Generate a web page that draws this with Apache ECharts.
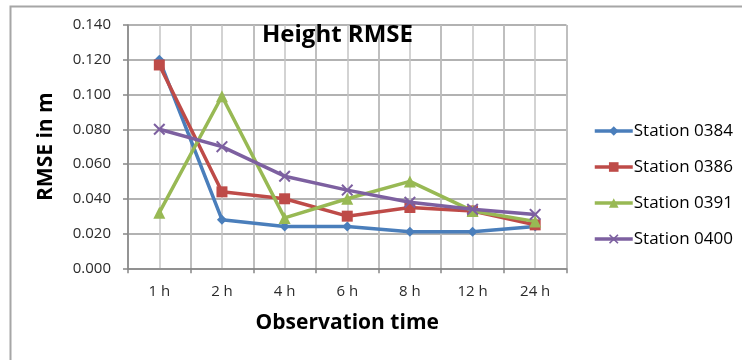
<!DOCTYPE html>
<html><head><meta charset="utf-8">
<script src="https://cdn.jsdelivr.net/npm/echarts@6/dist/echarts.min.js"></script>
<style>html,body{margin:0;padding:0;background:#fff}#c{width:742px;height:360px}</style>
</head><body><div id="c"></div>
<script>
const categories = ['1 h','2 h','4 h','6 h','8 h','12 h','24 h'];
const station0384 = [0.120, 0.028, 0.024, 0.024, 0.021, 0.021, 0.024];
const station0386 = [0.117, 0.044, 0.040, 0.030, 0.035, 0.033, 0.025];
const station0391 = [0.032, 0.099, 0.029, 0.040, 0.050, 0.033, 0.027];
const station0400 = [0.080, 0.070, 0.053, 0.045, 0.038, 0.034, 0.031];
const seriesNames = ['Station 0384','Station 0386','Station 0391','Station 0400'];

const colors = ['#4A7EBB','#BE4B48','#98B954','#7D60A0'];
const xPath = 'path://M0,1.2L1.2,0L5,3.8L8.8,0L10,1.2L6.2,5L10,8.8L8.8,10L5,6.2L1.2,10L0,8.8L3.8,5Z';
const symbols = ['diamond','rect','triangle',xPath];
const sizes = [10,11,12,12];
const data = [station0384, station0386, station0391, station0400];

const chart = echarts.init(document.getElementById('c'), null, {renderer:'canvas'});
const font = 'Open Sans, Liberation Sans, sans-serif';
chart.setOption({
  animation:false,
  color: colors,
  title:{text:'Height RMSE', left:262, top:23, padding:0,
    textStyle:{fontFamily:font, fontSize:24, fontWeight:'bold', color:'#000'}},
  graphic:[{type:'rect', shape:{x:10.5,y:6.5,width:760,height:400},
    style:{fill:null, stroke:'#a6a6a6', lineWidth:2}, silent:true, z:-1}],
  grid:{left:128, top:25, right:175.5, bottom:91.7, containLabel:false},
  legend:{orient:'vertical', left:593, top:122, padding:0, itemWidth:38, itemHeight:12, itemGap:18,
    data: seriesNames, lineStyle:{width:3.5},
    textStyle:{fontFamily:font, fontSize:17, color:'#000', lineHeight:18, padding:[0,0,0,-4]}},
  xAxis:[{type:'category', data:categories, boundaryGap:true,
    axisLine:{lineStyle:{color:'#868686', width:1.5}},
    axisTick:{show:true, length:5, lineStyle:{color:'#868686', width:1.5}},
    axisLabel:{fontFamily:font, fontSize:15, color:'#2b2b2b', margin:16},
    splitLine:{show:true, lineStyle:{color:'#999', width:1.5}},
    name:'Observation time', nameLocation:'middle', nameGap:44,
    nameTextStyle:{fontFamily:font, fontSize:21, fontWeight:'bold', color:'#000'}},
   {type:'value', min:0, max:14, interval:1, position:'bottom', show:true,
    axisLine:{show:false}, axisTick:{show:false}, axisLabel:{show:false},
    splitLine:{show:true, lineStyle:{color:'#c4c4c4', width:1.5}}}],
  yAxis:{type:'value', min:0, max:0.14, interval:0.02,
    axisLine:{show:true, lineStyle:{color:'#868686', width:1.5}},
    axisTick:{show:true, length:5, lineStyle:{color:'#868686', width:1.5}},
    axisLabel:{fontFamily:font, fontSize:15, color:'#2b2b2b', margin:17,
      formatter:v=>v.toFixed(3)},
    splitLine:{show:true, lineStyle:{color:'#999', width:1.5}},
    name:'RMSE in m', nameLocation:'middle', nameGap:71,
    nameTextStyle:{fontFamily:font, fontSize:21, fontWeight:'bold', color:'#000'}},
  series: seriesNames.map((n,i)=>({
    name:n, type:'line', data:data[i], xAxisIndex:0,
    symbol:symbols[i], symbolSize:sizes[i], showSymbol:true,
    lineStyle:{width:3.5, color:colors[i]},
    itemStyle:{color:colors[i]}, z:2+i
  }))
});
</script></body></html>
